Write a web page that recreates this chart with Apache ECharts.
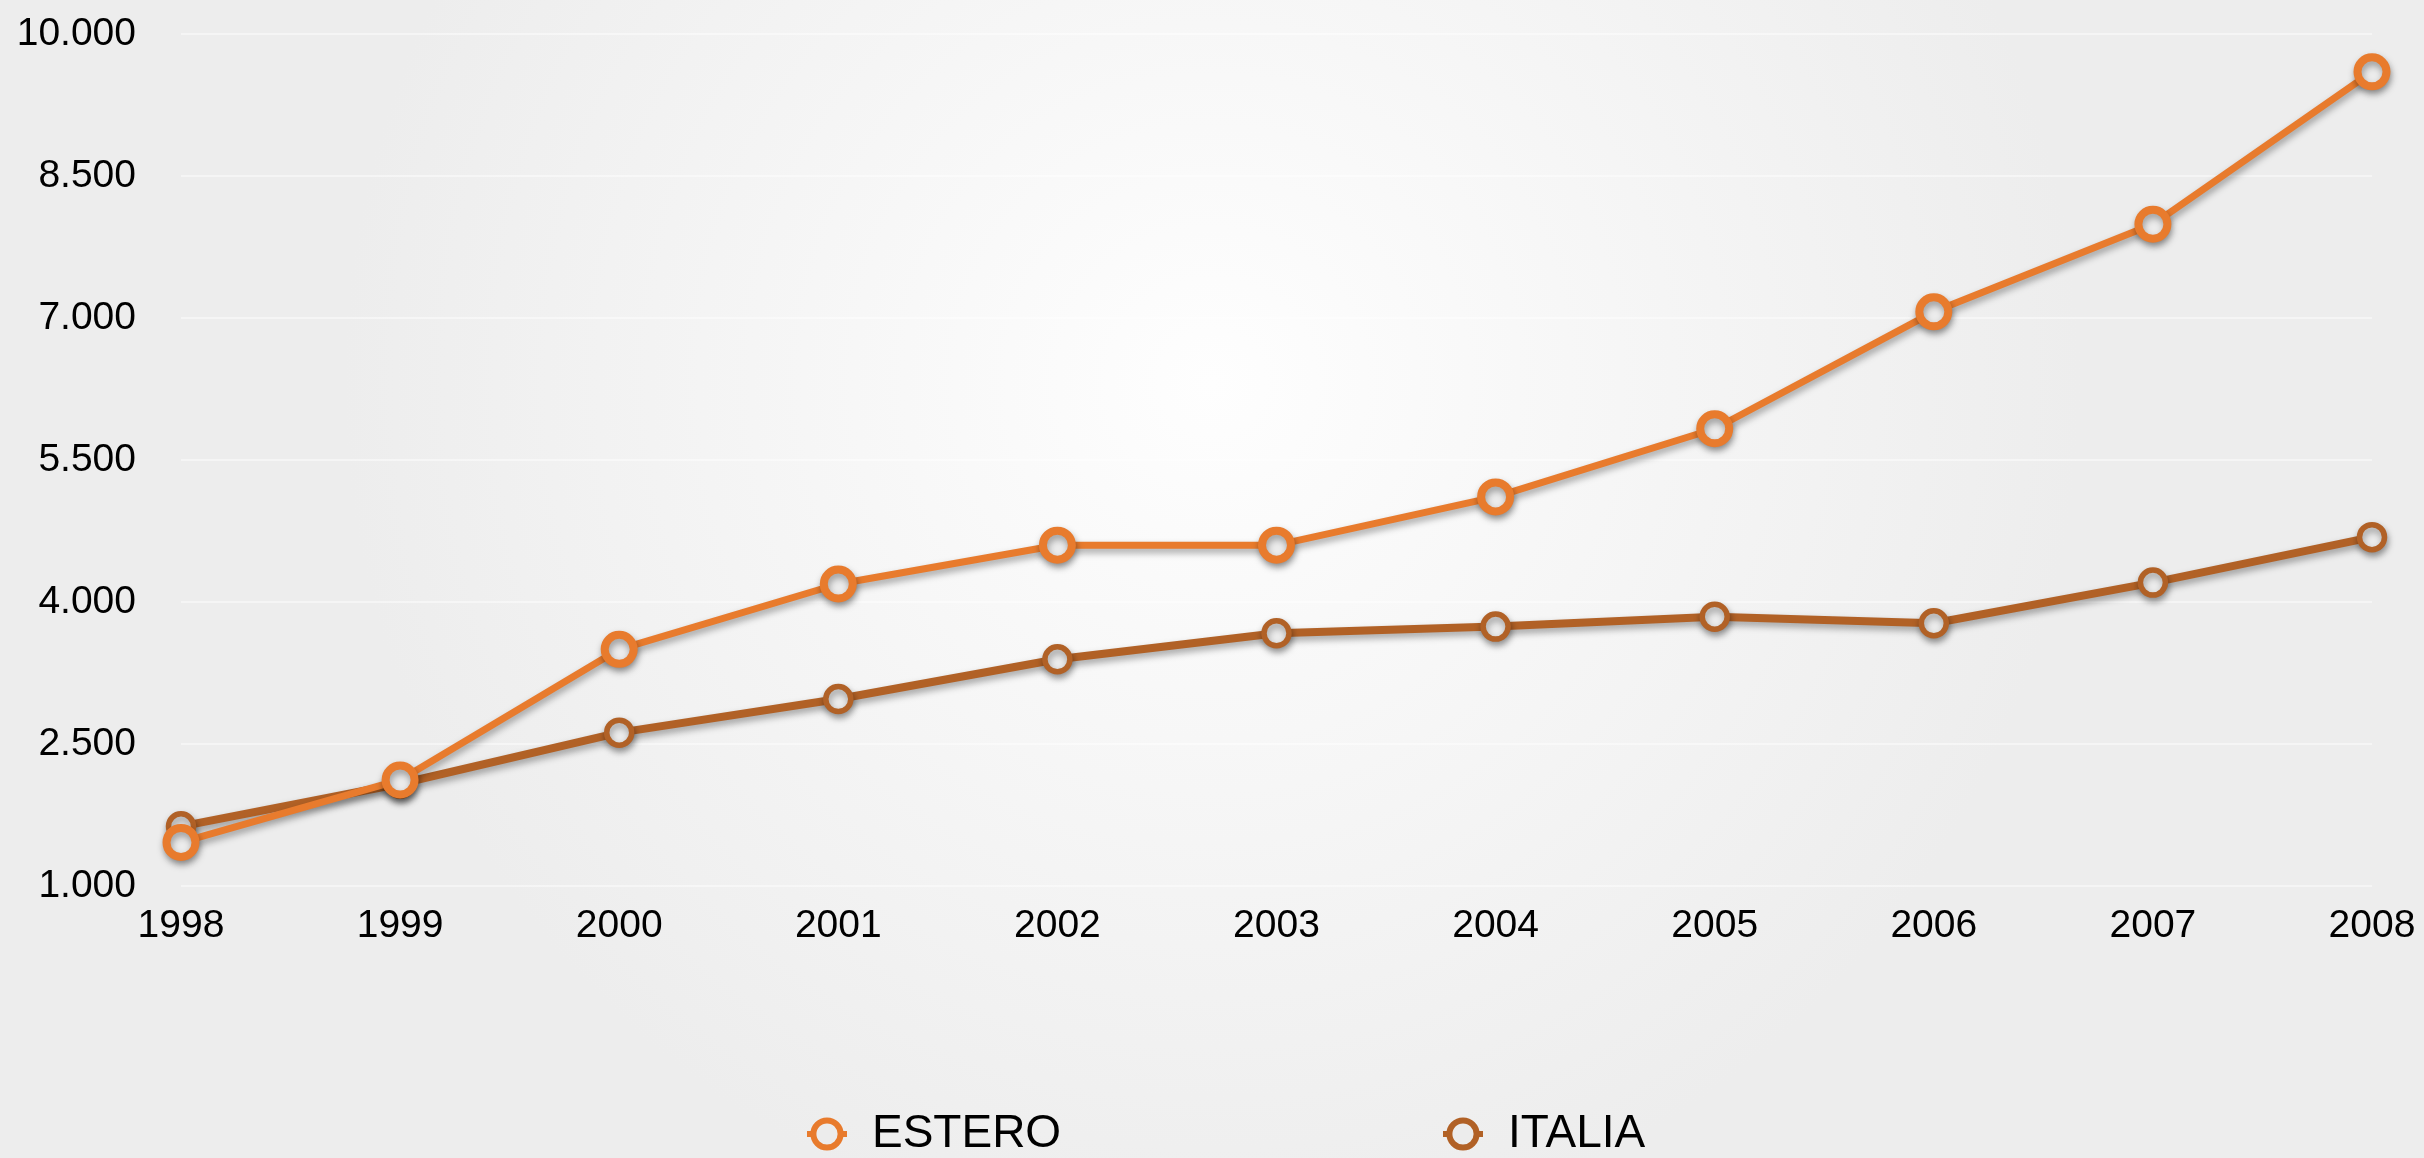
<!DOCTYPE html>
<html>
<head>
<meta charset="utf-8">
<script src="https://cdn.jsdelivr.net/npm/echarts@6/dist/echarts.min.js"></script>
<style>
html,body{margin:0;padding:0;width:2424px;height:1158px;overflow:hidden;}
#c{width:2424px;height:1158px;}
</style>
</head>
<body>
<div id="c"></div>
<script>
const years = ['1998','1999','2000','2001','2002','2003','2004','2005','2006','2007','2008'];
const estero = [1460, 2120, 3500, 4190, 4600, 4600, 5110, 5830, 7065, 7990, 9600];
const italia = [1630, 2080, 2620, 2975, 3395, 3670, 3740, 3845, 3775, 4205, 4685];
const yMin = 1000, yMax = 10000, yStep = 1500;

const FONT = "'Liberation Sans', Arial, Helvetica, sans-serif";
const C_EST = '#E87B2D';
const C_ITA = '#B16126';

const chart = echarts.init(document.getElementById('c'));
const shadow = {shadowColor:'rgba(0,0,0,0.35)', shadowBlur:7, shadowOffsetX:1, shadowOffsetY:4};

function legendFor(name, color, left) {
  return {
    data:[name], left:left, top:1106, itemWidth:40, itemHeight:34,
    itemStyle:{color:'#ececec', borderColor:color, borderWidth:6},
    lineStyle:{color:color, width:6},
    textStyle:{fontFamily:FONT, fontSize:46, color:'#000', padding:[0,0,0,20]}
  };
}

chart.setOption({
  backgroundColor: {
    type:'radial', x:0.5, y:0.33, r:0.75,
    colorStops:[{offset:0,color:'#fefefe'},{offset:1,color:'#ededed'}]
  },
  animation:false,
  grid:{left:181, right:52, top:34, bottom:272, containLabel:false},
  legend:[legendFor('ESTERO', C_EST, 799), legendFor('ITALIA', C_ITA, 1435)],
  xAxis:{
    type:'category', data:years, boundaryGap:false,
    axisLine:{show:false}, axisTick:{show:false},
    axisLabel:{fontFamily:FONT, fontSize:39, color:'#000', margin:21},
    splitLine:{show:false}
  },
  yAxis:{
    type:'value', min:yMin, max:yMax, interval:yStep,
    axisLine:{show:false}, axisTick:{show:false},
    axisLabel:{fontFamily:FONT, fontSize:39, color:'#000', margin:45,
      formatter: v => String(v).replace(/\B(?=(\d{3})+(?!\d))/g, '.')},
    splitLine:{lineStyle:{color:'rgba(255,255,255,0.6)', width:1.5}}
  },
  series:[
    {name:'ITALIA', type:'line', data:italia, z:2,
     symbol:'circle', symbolSize:25,
     lineStyle:Object.assign({color:C_ITA, width:8}, shadow),
     itemStyle:Object.assign({color:'#ececec', borderColor:C_ITA, borderWidth:5.5}, shadow)},
    {name:'ESTERO', type:'line', data:estero, z:3,
     symbol:'circle', symbolSize:29,
     lineStyle:Object.assign({color:C_EST, width:7}, shadow),
     itemStyle:Object.assign({color:'#ececec', borderColor:C_EST, borderWidth:8}, shadow)}
  ]
});
</script>
</body>
</html>
